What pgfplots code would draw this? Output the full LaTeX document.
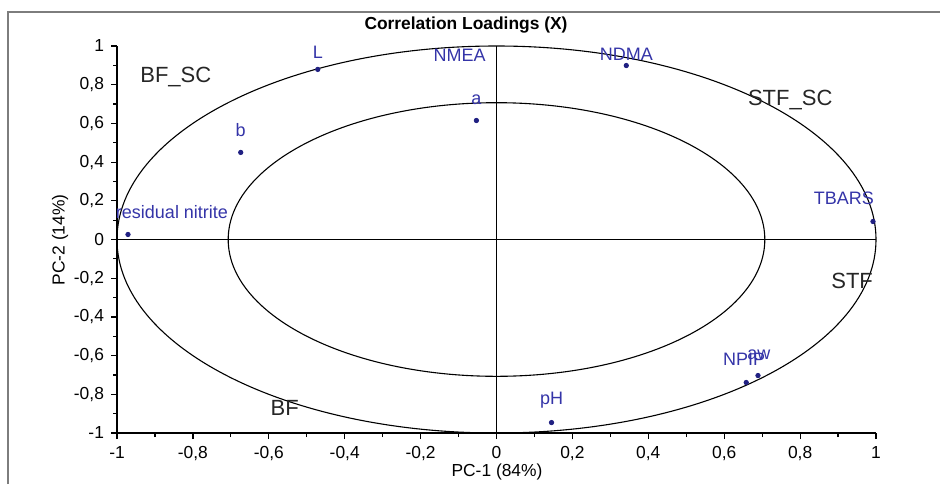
\documentclass[border=0pt]{standalone}
\usepackage{fontspec}
\setmainfont{Liberation Sans}
\usepackage{pgfplots}
\usepackage{pgfplotstable}
\pgfplotsset{compat=1.18}
\definecolor{lblblue}{RGB}{52,52,168}
\definecolor{dotblue}{RGB}{32,32,130}
\definecolor{framegray}{RGB}{125,125,125}

% x y = loadings, dx dy = label offset (pt)
\pgfplotstableread{
x      y       dx     dy    label
-0.971  0.026  22.0   11.0  {residual nitrite}
-0.674  0.450   0.0   11.0  b
-0.471  0.879   0.0    8.5  L
-0.053  0.615   0.0   10.5  a
 0.342  0.899   0.0    5.5  NDMA
 0.992  0.093 -14.5   11.5  TBARS
 0.145 -0.946   0.0   11.0  pH
 0.658 -0.739  -1.0   11.5  NPIP
 0.689 -0.703   0.5   10.5  aw
}\loadings

\begin{document}
\begin{tikzpicture}
\useasboundingbox (0pt,0pt) rectangle (470pt,242pt);
\draw[framegray, line width=0.9pt] (4pt,0pt) -- (4pt,236pt) -- (470pt,236pt);
\begin{axis}[
  at={(58.5pt,25.5pt)}, anchor=south west,
  scale only axis, width=379.5pt, height=193.5pt,
  xmin=-1, xmax=1, ymin=-1, ymax=1,
  axis lines*=left,
  axis line style={line width=0.7pt},
  xtick={-1,-0.8,-0.6,-0.4,-0.2,0,0.2,0.4,0.6,0.8,1},
  ytick={-1,-0.8,-0.6,-0.4,-0.2,0,0.2,0.4,0.6,0.8,1},
  minor tick num=1,
  tick align=outside,
  major tick length=3pt, minor tick length=2pt,
  tick style={black, line width=0.6pt},
  /pgf/number format/assume math mode=true,
  /pgf/number format/use comma,
  tick label style={font=\fontsize{8.7}{10}\selectfont},
  clip=false,
]
\addplot[black, line width=0.6pt, forget plot] coordinates {(-1,0) (1,0)};
\addplot[black, line width=0.6pt, forget plot] coordinates {(0,-1) (0,1)};
\draw[black, line width=0.55pt] (axis cs:0,0) ellipse [x radius=1, y radius=1];
\draw[black, line width=0.55pt] (axis cs:0,0) ellipse [x radius=0.707, y radius=0.707];

\addplot[only marks, mark=*, mark size=1.1pt, dotblue,
  point meta=explicit symbolic,
  visualization depends on={\thisrow{dx} \as \dx},
  visualization depends on={\thisrow{dy} \as \dy},
  nodes near coords,
  every node near coord/.append style={anchor=center, inner sep=0pt,
    xshift=\dx pt, yshift=\dy pt, text=lblblue,
    font=\fontsize{9}{10}\selectfont},
] table[x=x, y=y, meta=label] {\loadings};

\addplot[draw=none, mark=none, nodes near coords={NMEA},
  every node near coord/.style={anchor=center, inner sep=0pt, text=lblblue,
    font=\fontsize{9}{10}\selectfont},
] coordinates {(-0.097,0.951)};

\node[font=\fontsize{11}{13}\selectfont, text=black!85] at (axis cs:-0.845,0.842) {BF\_SC};
\node[font=\fontsize{11}{13}\selectfont, text=black!85] at (axis cs:0.774,0.72) {STF\_SC};
\node[font=\fontsize{11}{13}\selectfont, text=black!85] at (axis cs:0.937,-0.212) {STF};
\node[font=\fontsize{11}{13}\selectfont, text=black!85] at (axis cs:-0.558,-0.868) {BF};
\end{axis}
\node[font=\bfseries\fontsize{8.7}{10}\selectfont] at (233pt,229.5pt) {Correlation Loadings (X)};
\node[font=\fontsize{8.7}{10}\selectfont] at (248.5pt,6pt) {PC-1 (84\%)};
\node[font=\fontsize{8.7}{10}\selectfont, rotate=90] at (30pt,122pt) {PC-2 (14\%)};
\end{tikzpicture}
\end{document}
